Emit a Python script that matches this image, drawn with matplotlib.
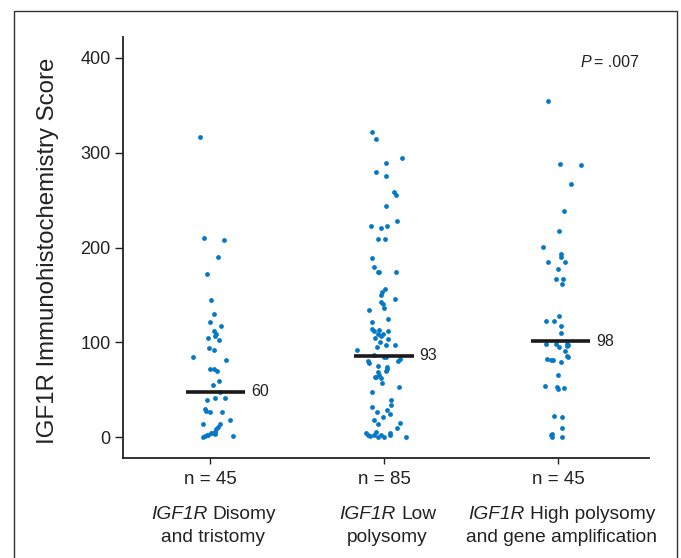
import matplotlib
matplotlib.use("Agg")
import matplotlib.pyplot as plt
from matplotlib.patches import Rectangle
from matplotlib.offsetbox import TextArea, HPacker, VPacker, AnnotationBbox

plt.rcParams['font.family'] = ['Liberation Sans', 'DejaVu Sans']

group_gene = ["IGF1R", "IGF1R", "IGF1R"]
group_line1 = ["Disomy", "Low", "High polysomy"]
group_line2 = ["and tristomy", "polysomy", "and gene amplification"]
counts = ["n = 45", "n = 85", "n = 45"]
median_pos = [48, 86, 101]
median_txt = ["60", "93", "98"]
median_shift = [0.03, 0.0, 0.015]

disomy = [316.3, 209.7, 207.9, 190.3, 172.4, 144.6, 129.5, 121.7, 117.2, 111.9,
          108.7, 106.6, 104.8, 102.0, 93.9, 91.8, 84.1, 81.3, 72.1, 71.4,
          70.0, 59.4, 54.6, 47.8, 41.2, 41.2, 39.4, 29.2, 27.8, 26.7,
          26.1, 17.6, 14.0, 13.4, 10.9, 8.1, 5.3, 4.5, 3.9, 3.5,
          2.5, 1.8, 1.1, 0.7, 0.3]
disomy_jit = [-0.057, -0.033, 0.082, 0.044, -0.016, 0.006, 0.023, 0.0, 0.065, 0.021,
              0.033, 0.030, -0.010, 0.053, -0.007, 0.025, -0.099, 0.094, 0.0, 0.023,
              0.039, 0.052, 0.019, 0.056, 0.027, 0.084, -0.017, -0.029, -0.021, 0.067,
              0.0, 0.113, 0.057, -0.042, 0.046, 0.034, 0.027, 0.004, 0.016, 0.030,
              -0.011, -0.019, 0.130, -0.030, -0.039]

low = [322.2, 314.5, 294.8, 288.8, 279.7, 275.5, 258.6, 255.7, 243.8, 228.0,
       222.4, 220.6, 222.4, 209.0, 209.0, 188.9, 179.7, 174.5, 174.1, 173.8,
       155.9, 153.4, 149.9, 145.3, 142.2, 140.4, 136.5, 134.4, 124.9, 121.4,
       114.0, 111.9, 112.6, 112.2, 108.4, 108.7, 106.6, 104.5, 103.1, 99.9,
       97.4, 97.1, 95.0, 91.8, 86.5, 84.1, 84.8, 82.0, 80.5, 80.5,
       77.8, 75.3, 74.2, 71.8, 70.0, 68.9, 65.1, 63.6, 63.0, 62.6,
       57.0, 52.5, 47.8, 39.4, 33.8, 32.0, 28.2, 26.7, 24.0, 21.4,
       17.6, 14.5, 13.4, 9.5, 5.0, 3.9, 3.9, 2.4, 2.4, 2.4,
       1.8, 1.4, 0.3, 0.0, 0.0]
low_jit = [-0.067, -0.048, 0.103, 0.013, -0.044, 0.013, 0.056, 0.071, 0.010, 0.075,
           -0.073, -0.019, 0.019, -0.036, 0.004, -0.067, -0.056, -0.036, -0.029, 0.071,
           0.006, -0.010, -0.019, 0.061, -0.016, -0.006, 0.002, -0.088, 0.023, -0.067,
           -0.069, -0.059, -0.029, 0.023, -0.034, -0.006, -0.017, -0.050, 0.021, -0.025,
           0.013, 0.063, -0.040, -0.153, -0.057, -0.002, 0.013, 0.090, 0.082, -0.090,
           -0.088, -0.036, 0.019, 0.016, 0.013, -0.033, -0.029, -0.050, -0.044, -0.019,
           -0.010, 0.084, -0.067, 0.039, 0.039, -0.067, 0.017, -0.039, 0.033, -0.006,
           -0.056, 0.092, -0.036, 0.076, -0.048, -0.105, 0.033, -0.094, -0.059, 0.036,
           -0.019, -0.082, -0.036, 0.002, 0.125]

high = [354.3, 288.5, 287.4, 267.4, 238.2, 217.1, 200.5, 193.1, 190.0, 185.0,
        184.7, 177.6, 167.1, 166.8, 161.5, 128.0, 122.7, 122.1, 117.2, 109.8,
        98.2, 98.2, 98.2, 97.5, 96.0, 95.0, 91.1, 85.5, 84.1, 82.0,
        81.6, 81.3, 78.8, 65.1, 54.1, 52.5, 51.0, 51.4, 22.5, 21.1,
        9.5, 2.8, 2.1, 0.0, 0.0]
high_jit = [-0.056, 0.011, 0.134, 0.076, 0.034, 0.006, -0.088, 0.017, 0.019, -0.056,
            0.039, -0.002, -0.013, 0.030, 0.025, 0.006, -0.071, -0.023, 0.017, 0.017,
            -0.069, -0.011, 0.053, 0.057, 0.050, 0.004, 0.039, 0.050, 0.059, -0.061,
            -0.042, -0.029, 0.019, -0.002, -0.073, -0.006, 0.0, 0.034, -0.025, 0.025,
            0.023, -0.036, -0.040, -0.033, 0.021]

values = [disomy, low, high]
jitter = [disomy_jit, low_jit, high_jit]

txtc = '#222222'
fig = plt.figure(figsize=(6.81, 5.58), dpi=100)
ax = fig.add_axes([123/681, 1 - 458/558, (649 - 123)/681, (458 - 37)/558])

# outer frame of the figure panel
fig.patches.append(Rectangle((14/681, -0.1), (677 - 14)/681, 1.1 - 11/558,
                             transform=fig.transFigure, fill=False,
                             edgecolor='#333333', linewidth=1.0))

for i in range(3):
    xs = [i + j for j in jitter[i]]
    ax.scatter(xs, values[i], s=12, color='#0679c6', linewidths=0, zorder=3)
    c = i + median_shift[i]
    ax.plot([c - 0.17, c + 0.17], [median_pos[i], median_pos[i]],
            color='#1a1a1a', linewidth=2.6, solid_capstyle='butt', zorder=4)
    ax.text(c + 0.205, median_pos[i], median_txt[i], fontsize=11.5,
            va='center', ha='left', color=txtc)

    tp = dict(fontsize=13.8, color=txtc)
    first = HPacker(children=[TextArea(group_gene[i], textprops=dict(tp, style='italic')),
                              TextArea(group_line1[i], textprops=tp)],
                    align='baseline', pad=0, sep=4)
    second = TextArea(group_line2[i], textprops=tp)
    box = VPacker(children=[first, second], align='center', pad=0, sep=4)
    ab = AnnotationBbox(box, (i + 0.02, -0.115), xycoords=ax.get_xaxis_transform(),
                        box_alignment=(0.5, 1.0), frameon=False, pad=0,
                        annotation_clip=False)
    ax.add_artist(ab)

ax.set_xlim(-0.5, 2.523)
ax.set_ylim(-22, 422)
ax.set_xticks([0, 1, 2])
ax.set_xticklabels(counts)
ax.set_yticks([0, 100, 200, 300, 400])
ax.tick_params(axis='y', length=6, width=1, labelsize=13, pad=3, colors=txtc)
ax.tick_params(axis='x', length=4.5, width=1, labelsize=13.5, pad=5, colors=txtc)
for s in ['top', 'right']:
    ax.spines[s].set_visible(False)
for s in ['left', 'bottom']:
    ax.spines[s].set_linewidth(1.3)
    ax.spines[s].set_color(txtc)

ax.text(2.132, 395, "P", style='italic', ha='left', va='center',
        fontsize=11.5, color=txtc)
ax.text(2.466, 395, "= .007", ha='right', va='center', fontsize=11.5, color=txtc)

fig.text(48/681, 1 - 251/558, "IGF1R Immunohistochemistry Score", rotation=90,
         ha='center', va='center', fontsize=17.3, color=txtc)

fig.savefig("out.png", dpi=100)
